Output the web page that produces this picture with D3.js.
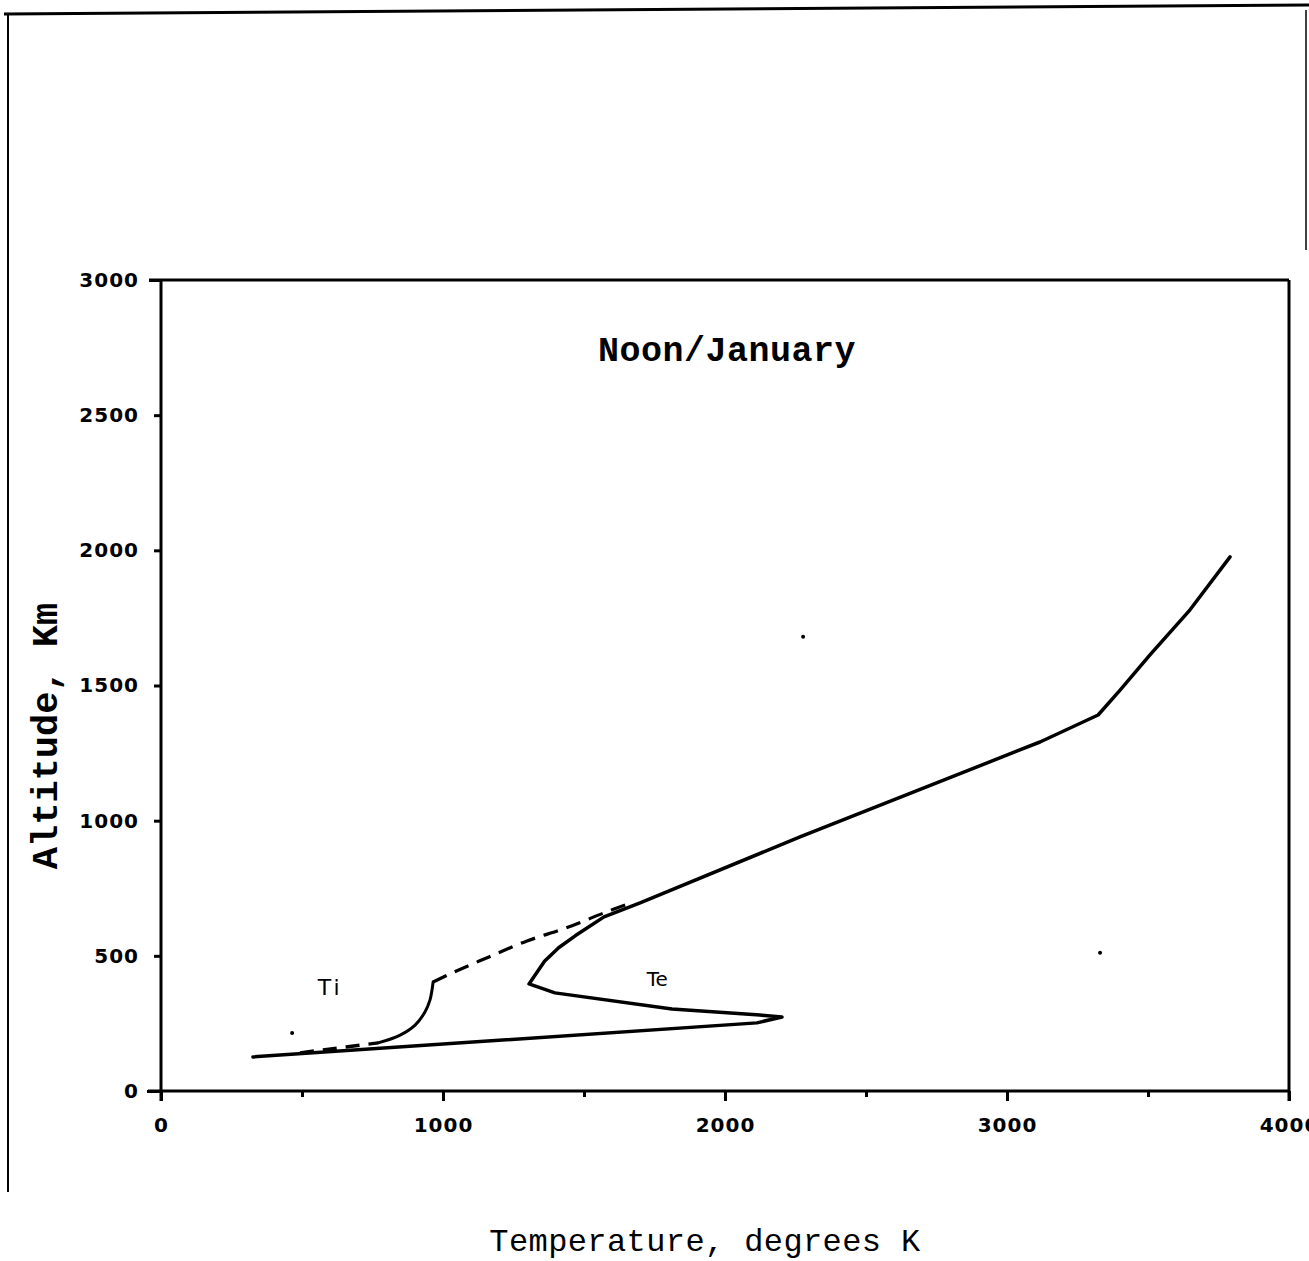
<!DOCTYPE html>
<html>
<head>
<meta charset="utf-8">
<script src="https://cdn.jsdelivr.net/npm/d3@7"></script>
<style>
  body { margin: 0; background: #fff; }
  svg { display: block; }
</style>
</head>
<body>
<svg width="1309" height="1261"></svg>
<script>
// ---- data ----
var xTicks = [0, 500, 1000, 1500, 2000, 2500, 3000, 3500, 4000]
var yTicks = [0, 500, 1000, 1500, 2000, 2500, 3000]

// electron temperature, solid line
var teTemp = [326, 2113, 2202, 2124, 1812, 1397, 1305, 1360, 1410, 1470, 1571, 1699, 2266, 3117, 3323, 3401, 3507, 3649, 3791]
var teAlt  = [126, 252, 274, 281, 303, 363, 396, 480, 530, 575, 644, 696, 940, 1291, 1391, 1483, 1613, 1780, 1976]

// ion temperature, three pieces (dashed / solid / dashed)
var tiLowTemp = [493, 770]
var tiLowAlt  = [141, 178]
var tiMidTemp = [770, 848, 901, 936, 954, 961, 965]
var tiMidAlt  = [178, 207, 244, 292, 337, 374, 403]
var tiUpTemp  = [965, 1039, 1163, 1298, 1436, 1571, 1650]
var tiUpAlt   = [403, 440, 496, 555, 603, 659, 690]

// little specks from the scan
var speckTemp = [465, 2277, 3330]
var speckAlt  = [215, 1680, 511]

var svg = d3.select("svg")

svg.append("rect").attr("width", 1309).attr("height", 1261).attr("fill", "#fff")

var x = d3.scaleLinear().domain([0, 4000]).range([161, 1289])
var y = d3.scaleLinear().domain([0, 3000]).range([1091, 280])

// page edges of the scan
svg.append("line").attr("x1", 4).attr("y1", 14).attr("x2", 1309).attr("y2", 5)
    .attr("stroke", "#000").attr("stroke-width", 3)
svg.append("line").attr("x1", 8).attr("y1", 13).attr("x2", 8).attr("y2", 1192)
    .attr("stroke", "#000").attr("stroke-width", 2)
svg.append("line").attr("x1", 1306).attr("y1", 10).attr("x2", 1306).attr("y2", 250)
    .attr("stroke", "#000").attr("stroke-width", 1.5)

var tickFont = "'DejaVu Sans', sans-serif"

// bottom axis
var xAxis = svg.append("g")
    .attr("transform", "translate(0," + y(0) + ")")
    .call(d3.axisBottom(x).tickValues(xTicks)
        .tickSize(9).tickPadding(18)
        .tickFormat(function (d) { return d % 1000 === 0 ? d : "" }))
xAxis.select(".domain").attr("d", "M148,0H" + x(4000)).attr("stroke-width", 3)
xAxis.selectAll(".tick line").attr("stroke-width", 3)
    .attr("y2", function (d) { return d % 1000 === 0 ? 10 : 6 })
xAxis.selectAll("text")
    .attr("font-family", tickFont).attr("font-weight", "bold")
    .attr("font-size", 20).attr("letter-spacing", 1).attr("fill", "#000")

// left axis
var yAxis = svg.append("g")
    .attr("transform", "translate(" + x(0) + ",0)")
    .call(d3.axisLeft(y).tickValues(yTicks).tickSize(8).tickPadding(14)
        .tickFormat(d3.format("d")))
yAxis.select(".domain").attr("d", "M0," + (y(0) + 10) + "V" + y(3000)).attr("stroke-width", 3)
yAxis.selectAll(".tick line").attr("stroke-width", 3)
    .attr("x2", function (d) { return d === 3000 ? -12 : (d === 0 ? -14 : -7) })
yAxis.selectAll("text")
    .attr("font-family", tickFont).attr("font-weight", "bold")
    .attr("font-size", 20).attr("letter-spacing", 1).attr("fill", "#000")

// top and right frame
svg.append("line").attr("x1", 149).attr("y1", y(3000)).attr("x2", x(4000)).attr("y2", y(3000))
    .attr("stroke", "#000").attr("stroke-width", 3)
svg.append("line").attr("x1", x(4000)).attr("y1", y(3000)).attr("x2", x(4000)).attr("y2", y(0) + 10)
    .attr("stroke", "#000").attr("stroke-width", 3)

// curves
function pts(t, a) { return t.map(function (v, i) { return [v, a[i]] }) }

var line = d3.line().x(function (d) { return x(d[0]) }).y(function (d) { return y(d[1]) })
var smooth = d3.line().x(function (d) { return x(d[0]) }).y(function (d) { return y(d[1]) })
    .curve(d3.curveCatmullRom.alpha(0.5))

svg.append("path").datum(pts(teTemp, teAlt)).attr("d", line)
    .attr("fill", "none").attr("stroke", "#000").attr("stroke-width", 3.5)
    .attr("stroke-linejoin", "round").attr("stroke-linecap", "round")

svg.append("path").datum(pts(tiLowTemp, tiLowAlt)).attr("d", line)
    .attr("fill", "none").attr("stroke", "#000").attr("stroke-width", 3.5)
    .attr("stroke-dasharray", "14,9")
svg.append("path").datum(pts(tiMidTemp, tiMidAlt)).attr("d", smooth)
    .attr("fill", "none").attr("stroke", "#000").attr("stroke-width", 3)
    .attr("stroke-linecap", "round")
svg.append("path").datum(pts(tiUpTemp, tiUpAlt)).attr("d", smooth)
    .attr("fill", "none").attr("stroke", "#000").attr("stroke-width", 3.2)
    .attr("stroke-dasharray", "15,9")

svg.selectAll(".speck").data(pts(speckTemp, speckAlt)).enter()
    .append("circle").attr("class", "speck")
    .attr("cx", function (d) { return x(d[0]) }).attr("cy", function (d) { return y(d[1]) })
    .attr("r", 2).attr("fill", "#000")

// curve labels
svg.append("text").attr("x", x(600)).attr("y", y(355))
    .attr("font-family", tickFont).attr("font-size", 22).attr("letter-spacing", 3)
    .attr("text-anchor", "middle").text("Ti")
svg.append("text").attr("x", x(1760)).attr("y", y(390))
    .attr("font-family", tickFont).attr("font-size", 20)
    .attr("text-anchor", "middle").text("Te")

// title and axis titles
var mono = "'Liberation Mono', 'DejaVu Sans Mono', monospace"
svg.append("text").attr("x", 727).attr("y", 361)
    .attr("font-family", mono).attr("font-weight", "bold").attr("font-size", 35)
    .attr("letter-spacing", 0.5)
    .attr("text-anchor", "middle").text("Noon/January")

svg.append("text").attr("transform", "translate(57,736) rotate(-90)")
    .attr("font-family", mono).attr("font-weight", "bold").attr("font-size", 37)
    .attr("text-anchor", "middle").text("Altitude, Km")

svg.append("text").attr("x", 705).attr("y", 1251)
    .attr("font-family", mono).attr("font-size", 32).attr("letter-spacing", 0.4)
    .attr("text-anchor", "middle").text("Temperature, degrees K")
</script>
</body>
</html>
